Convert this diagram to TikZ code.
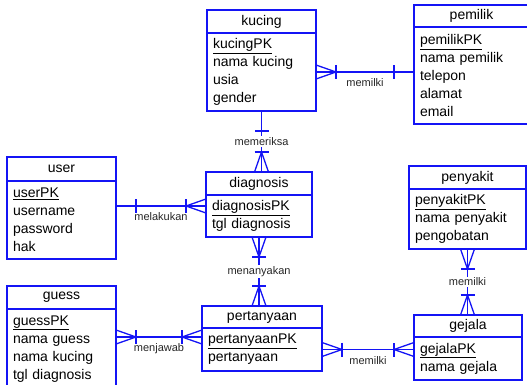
\documentclass[tikz,border=0pt]{standalone}
\usepackage{fontspec}
\setmainfont{Liberation Sans}
\definecolor{erblue}{RGB}{20,20,245}

\begin{document}
\begin{tikzpicture}[x=1pt,y=-1pt]

  \tikzset{
    erline/.style={draw=erblue, line width=1.3pt},
    enthead/.style={
      erline,
      rectangle,
      anchor=north west,
      inner sep=0pt,
      outer sep=0pt,
      font=\fontsize{14}{18}\selectfont,
      text centered
    },
    entbody/.style={
      erline,
      rectangle,
      anchor=north west,
      inner xsep=6pt,
      inner ysep=0pt,
      outer sep=0pt,
      font=\fontsize{14}{18}\selectfont,
      align=left
    },
    rellabel/.style={font=\fontsize{11}{11}\selectfont, inner sep=1pt, text=black!85},
    crowfoot/.pic={
      \draw[erline] (0pt,7pt) -- (20pt,0pt) -- (0pt,-7pt);
      \draw[erline] (20pt,7pt) -- (20pt,-7pt);
    },
    onebar/.pic={
      \draw[erline] (20pt,7pt) -- (20pt,-7pt);
    }
  }

  \useasboundingbox (0,0) rectangle (527,385);
  \clip (0,0) rectangle (527,385);

  % entities
  \node[enthead, minimum width=109pt, minimum height=23pt] (kucingH) at (207,10) {kucing};
  \node[entbody, text width=97pt, minimum height=78pt] (kucingB) at (kucingH.south west)
    {\underline{kucingPK}\\nama kucing\\usia\\gender};

  \node[enthead, minimum width=115pt, minimum height=22pt] (pemilikH) at (414,5) {pemilik};
  \node[entbody, text width=103pt, minimum height=97pt] (pemilikB) at (pemilikH.south west)
    {\underline{pemilikPK}\\nama pemilik\\telepon\\alamat\\email};

  \node[enthead, minimum width=109pt, minimum height=24pt] (userH) at (7,157) {user};
  \node[entbody, text width=97pt, minimum height=78pt] (userB) at (userH.south west)
    {\underline{userPK}\\username\\password\\hak};

  \node[enthead, minimum width=106pt, minimum height=23pt] (diagnosisH) at (206,172) {diagnosis};
  \node[entbody, text width=94pt, minimum height=42pt] (diagnosisB) at (diagnosisH.south west)
    {\underline{diagnosisPK}\\tgl diagnosis};

  \node[enthead, minimum width=117pt, minimum height=23pt] (penyakitH) at (409,166) {penyakit};
  \node[entbody, text width=105pt, minimum height=60pt] (penyakitB) at (penyakitH.south west)
    {\underline{penyakitPK}\\nama penyakit\\pengobatan};

  \node[enthead, minimum width=109pt, minimum height=23pt] (guessH) at (7,286) {guess};
  \node[entbody, text width=97pt, minimum height=80pt] (guessB) at (guessH.south west)
    {\underline{guessPK}\\nama guess\\nama kucing\\tgl diagnosis};

  \node[enthead, minimum width=120pt, minimum height=22pt] (pertanyaanH) at (202,306) {pertanyaan};
  \node[entbody, text width=108pt, minimum height=43pt] (pertanyaanB) at (pertanyaanH.south west)
    {\underline{pertanyaanPK}\\pertanyaan};

  \node[enthead, minimum width=108pt, minimum height=22pt] (gejalaH) at (414,315) {gejala};
  \node[entbody, text width=96pt, minimum height=43pt] (gejalaB) at (gejalaH.south west)
    {\underline{gejalaPK}\\nama gejala};

  % kucing - pemilik
  \draw[erline] (kucingB.east) -- (kucingB.east -| pemilikB.west)
    node[rellabel, midway, below=5pt] (lblMemilki) {memilki};
  \pic at (kucingB.east) {crowfoot};
  \pic[rotate=180] at (kucingB.east -| pemilikB.west) {onebar};

  % kucing - diagnosis
  \draw[erline] (kucingB.south) -- (kucingB.south |- diagnosisH.north)
    node[rellabel, midway, fill=white] (lblMemeriksa) {memeriksa};
  \pic[rotate=-90] at (kucingB.south) {onebar};
  \pic[rotate=90] at (kucingB.south |- diagnosisH.north) {crowfoot};

  % user - diagnosis
  \coordinate (diagRow) at ([yshift=-11pt]diagnosisB.north west);
  \draw[erline] (diagRow -| userB.east) -- (diagRow)
    node[rellabel, midway, below=5pt] (lblMelakukan) {melakukan};
  \pic at (diagRow -| userB.east) {onebar};
  \pic[rotate=180] at (diagRow) {crowfoot};

  % diagnosis - pertanyaan
  \draw[erline] (diagnosisB.south) -- (diagnosisB.south |- pertanyaanH.north)
    node[rellabel, midway, fill=white] (lblMenanyakan) {menanyakan};
  \pic[rotate=-90] at (diagnosisB.south) {crowfoot};
  \pic[rotate=90] at (diagnosisB.south |- pertanyaanH.north) {crowfoot};

  % guess - pertanyaan
  \coordinate (tanyaRow) at ([yshift=-9pt]pertanyaanB.north west);
  \draw[erline] (tanyaRow -| guessB.east) -- (tanyaRow)
    node[rellabel, midway, below=5pt] (lblMenjawab) {menjawab};
  \pic at (tanyaRow -| guessB.east) {crowfoot};
  \pic[rotate=180] at (tanyaRow) {crowfoot};

  % penyakit - gejala
  \draw[erline] (penyakitB.south) -- (penyakitB.south |- gejalaH.north)
    node[rellabel, midway, fill=white] (lblMemiliki) {memilki};
  \pic[rotate=-90] at (penyakitB.south) {crowfoot};
  \pic[rotate=90] at (penyakitB.south |- gejalaH.north) {crowfoot};

  % pertanyaan - gejala
  \draw[erline] (pertanyaanB.east) -- (pertanyaanB.east -| gejalaB.west)
    node[rellabel, midway, below=5pt] (lblMemilki2) {memilki};
  \pic at (pertanyaanB.east) {crowfoot};
  \pic[rotate=180] at (pertanyaanB.east -| gejalaB.west) {crowfoot};

\end{tikzpicture}
\end{document}
